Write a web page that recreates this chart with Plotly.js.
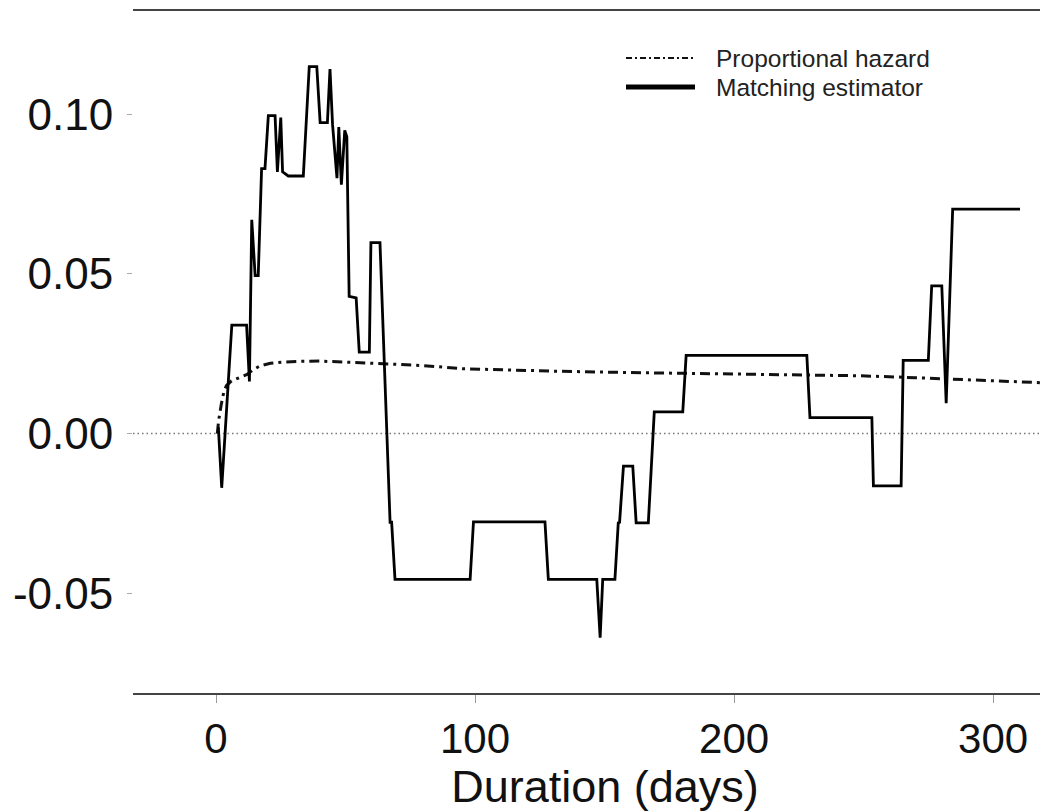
<!DOCTYPE html>
<html>
<head>
<meta charset="utf-8">
<script src="https://cdn.plot.ly/plotly-3.0.1.min.js"></script>
<style>
  html, body { margin: 0; padding: 0; background: #fff; overflow: hidden; }
  #chart { width: 1077px; height: 812px; }
</style>
</head>
<body>
<div id="chart"></div>
<script>
// ---- Data ----
const hazardDays = [0.5, 1, 2, 3, 4, 6, 9, 12, 14, 17, 21, 26, 32, 40, 50, 60, 70, 80, 95, 110, 133, 160, 190, 220, 249, 270, 290, 310, 332];
const hazardValues = [0.000, 0.004, 0.009, 0.013, 0.015, 0.0165, 0.0175, 0.0185, 0.0198, 0.0212, 0.0220, 0.0224, 0.0226, 0.0227, 0.0224, 0.0221, 0.0217, 0.0213, 0.0203, 0.0199, 0.0195, 0.0191, 0.0187, 0.0184, 0.0181, 0.0175, 0.0168, 0.0161, 0.0155];

const matchDays = [0.9, 2.2, 3.5, 4.8, 6.1, 11.8, 12.9, 13.8, 15.1, 16.3, 17.6, 18.9, 20.2, 22.8, 23.7, 25.0, 25.7, 27.9, 33.7, 36.0, 38.9, 40.2, 43.0, 44.0, 45.0, 46.7, 47.4, 48.4, 49.7, 50.5, 51.4, 54.1, 55.3, 59.2, 59.8, 63.3, 67.2, 67.8, 69.1, 98.1, 99.4, 127.0, 128.3, 147.0, 148.3, 149.3, 154.0, 155.3, 155.8, 157.3, 160.9, 162.2, 166.9, 169.2, 180.2, 181.5, 228.1, 229.3, 253.2, 253.8, 264.5, 265.3, 275.0, 276.3, 280.2, 281.9, 284.4, 310.4];
const matchValues = [0.002, -0.017, 0.000, 0.017, 0.034, 0.034, 0.0163, 0.067, 0.0495, 0.0495, 0.083, 0.083, 0.0996, 0.0996, 0.082, 0.099, 0.082, 0.0807, 0.0807, 0.115, 0.115, 0.0974, 0.0974, 0.1142, 0.0967, 0.080, 0.096, 0.078, 0.095, 0.093, 0.043, 0.0425, 0.0255, 0.0255, 0.0598, 0.0598, -0.0278, -0.0278, -0.0457, -0.0457, -0.0277, -0.0277, -0.0457, -0.0457, -0.064, -0.0457, -0.0457, -0.028, -0.0278, -0.0102, -0.0102, -0.028, -0.028, 0.0068, 0.0068, 0.0245, 0.0245, 0.005, 0.005, -0.0164, -0.0164, 0.0229, 0.0229, 0.0463, 0.0463, 0.0095, 0.0703, 0.0703];

const xTickVals = [0, 100, 200, 300];
const yTickVals = [-0.05, 0.00, 0.05, 0.10];
const yTickText = ["-0.05", "0.00", "0.05", "0.10"];
const seriesNames = ["Proportional hazard", "Matching estimator"];
const xTitle = "Duration (days)";

// ---- Layout geometry ----
const W = 1077, H = 812;
const M = { l: 133, r: 0, t: 11, b: 119 };
const plotW = W - M.l - M.r, plotH = H - M.t - M.b;
const px2x = p => (p - M.l) / plotW;
const px2y = p => (H - M.b - p) / plotH;

const FONT = "Liberation Sans, Arial, Helvetica, sans-serif";

const traces = [
  {
    x: hazardDays, y: hazardValues, type: "scatter", mode: "lines",
    name: seriesNames[0], showlegend: false,
    line: { color: "#111", width: 3, dash: "10px,5px,3px,5px" }
  },
  {
    x: matchDays, y: matchValues, type: "scatter", mode: "lines",
    name: seriesNames[1], showlegend: false,
    line: { color: "#000", width: 2.8 }
  }
];

const layout = {
  width: W, height: H,
  margin: M,
  paper_bgcolor: "#fff", plot_bgcolor: "#fff",
  font: { family: FONT, color: "#111" },
  showlegend: false,
  xaxis: {
    range: [-32.05, 332.4],
    tickvals: xTickVals,
    ticktext: xTickVals.map(String),
    ticks: "outside", ticklen: 8, tickwidth: 1, tickcolor: "#999",
    showline: true, linecolor: "#444", linewidth: 2, mirror: true,
    showgrid: false, zeroline: false,
    tickfont: { size: 42, family: FONT, color: "#111" },
    title: { text: xTitle, font: { size: 45, family: FONT, color: "#111" }, standoff: 14 }
  },
  yaxis: {
    range: [-0.0813, 0.1324],
    tickvals: yTickVals, ticktext: yTickText,
    ticks: "outside", ticklen: 5, tickwidth: 1, tickcolor: "#aaa",
    ticklabelstandoff: 5,
    showline: false, showgrid: false, zeroline: false,
    tickfont: { size: 44, family: FONT, color: "#111" }
  },
  shapes: [
    { type: "line", xref: "paper", yref: "y", x0: 0, x1: 1, y0: 0, y1: 0,
      line: { color: "#777", width: 1.5, dash: "1.5px,3px" }, layer: "below" },
    { type: "line", xref: "paper", yref: "paper", x0: px2x(626), x1: px2x(695), y0: px2y(58), y1: px2y(58),
      line: { color: "#111", width: 2, dash: "6px,3px,2px,3px" } },
    { type: "line", xref: "paper", yref: "paper", x0: px2x(626), x1: px2x(695), y0: px2y(87), y1: px2y(87),
      line: { color: "#000", width: 5 } }
  ],
  annotations: [
    { xref: "paper", yref: "paper", x: px2x(714), y: px2y(58), text: seriesNames[0],
      showarrow: false, xanchor: "left", yanchor: "middle", font: { size: 24.5, family: FONT, color: "#222" } },
    { xref: "paper", yref: "paper", x: px2x(714), y: px2y(87), text: seriesNames[1],
      showarrow: false, xanchor: "left", yanchor: "middle", font: { size: 24.5, family: FONT, color: "#222" } }
  ]
};

Plotly.newPlot("chart", traces, layout, { displayModeBar: false, staticPlot: true });
</script>
</body>
</html>
